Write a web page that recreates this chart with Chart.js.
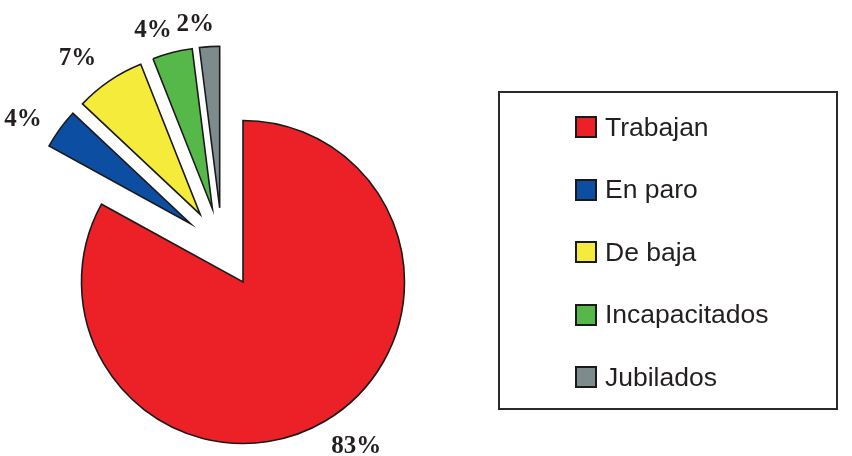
<!DOCTYPE html>
<html>
<head>
<meta charset="utf-8">
<script src="https://cdn.jsdelivr.net/npm/chart.js@4.4.1/dist/chart.umd.min.js"></script>
<style>
  body { margin: 0; background: #fff; }
  #wrap { position: relative; width: 852px; height: 456px; overflow: hidden; }
  #pieChart { position: absolute; left: 0; top: 0; }
  #legendBox {
    position: absolute; left: 498px; top: 91px;
    width: 336px; height: 315px;
    border: 2px solid #2a2a2a;
  }
  .item {
    position: absolute; left: 75px; height: 30px;
    display: flex; align-items: center;
    font: 26.5px "Liberation Sans", Arial, sans-serif; color: #231f20;
    white-space: nowrap;
  }
  .swatch { width: 18px; height: 18px; border: 2px solid #1a1a1a; margin-right: 8px; }
</style>
</head>
<body>
<div id="wrap">
  <canvas id="pieChart" width="852" height="456"></canvas>
  <div id="legendBox"></div>
</div>
<script>
// data
const labels = ["Trabajan", "En paro", "De baja", "Incapacitados", "Jubilados"];
const values = [83, 4, 7, 4, 2];
const colors = ["#ec2128", "#0b4ea2", "#f5eb3a", "#56b848", "#7d8b8c"];

// legend (html, framed box on the right)
const legendBox = document.getElementById("legendBox");
labels.forEach((label, i) => {
  const item = document.createElement("div");
  item.className = "item";
  item.style.top = (19 + i * 62.6) + "px";
  const sw = document.createElement("span");
  sw.className = "swatch";
  sw.style.background = colors[i];
  item.appendChild(sw);
  item.appendChild(document.createTextNode(label));
  legendBox.appendChild(item);
});

// pulls the small slices out: the whole group moves along its mid angle,
// then each slice moves a bit more along its own mid angle
const explodePlugin = {
  id: "explode",
  afterDatasetsUpdate(chart, args, opts) {
    const arcs = chart.getDatasetMeta(0).data;
    const moved = arcs.filter((a, i) => opts.slice[i] > 0);
    if (!moved.length) return;
    const groupMid = (moved[0].startAngle + moved[moved.length - 1].endAngle) / 2;
    arcs.forEach((arc, i) => {
      const d = opts.slice[i];
      if (!d) return;
      const mid = (arc.startAngle + arc.endAngle) / 2;
      arc.x += Math.cos(groupMid) * opts.group + Math.cos(mid) * d;
      arc.y += Math.sin(groupMid) * opts.group + Math.sin(mid) * d;
    });
  }
};

// percentage labels outside each slice
const pctLabelPlugin = {
  id: "pctLabels",
  afterDatasetsDraw(chart, args, opts) {
    const ctx = chart.ctx;
    const data = chart.data.datasets[0].data;
    const total = data.reduce((s, v) => s + v, 0);
    const shift = opts.angleShift * Math.PI / 180;
    ctx.save();
    ctx.font = opts.font;
    ctx.fillStyle = opts.color;
    ctx.textAlign = "center";
    ctx.textBaseline = "middle";
    chart.getDatasetMeta(0).data.forEach((arc, i) => {
      const mid = (arc.startAngle + arc.endAngle) / 2 + shift;
      const r = arc.outerRadius + opts.gap[i];
      const text = Math.round(data[i] / total * 100) + "%";
      ctx.fillText(text, arc.x + Math.cos(mid) * r, arc.y + Math.sin(mid) * r);
    });
    ctx.restore();
  }
};

const ctx = document.getElementById("pieChart").getContext("2d");
new Chart(ctx, {
  type: "pie",
  data: {
    labels: labels,
    datasets: [
      {
        data: values,
        backgroundColor: colors,
        borderColor: "#1a1a1a",
        borderWidth: 1.6,
        borderJoinStyle: "miter",
        clip: false,
      },
    ],
  },
  options: {
    responsive: false,
    animation: false,
    events: [],
    radius: 161.5,
    layout: { padding: { left: 0, right: 366, top: 120, bottom: 12 } },
    plugins: {
      legend: { display: false },
      tooltip: { enabled: false },
      explode: { group: 41, slice: [0, 39, 39, 39, 39] },
      pctLabels: {
        font: "bold 25px 'Liberation Serif', 'Times New Roman', serif",
        color: "#231f20",
        gap: [38, 36, 37, 27, 23],
        angleShift: -4,
      },
    },
  },
  plugins: [explodePlugin, pctLabelPlugin],
});
</script>
</body>
</html>
